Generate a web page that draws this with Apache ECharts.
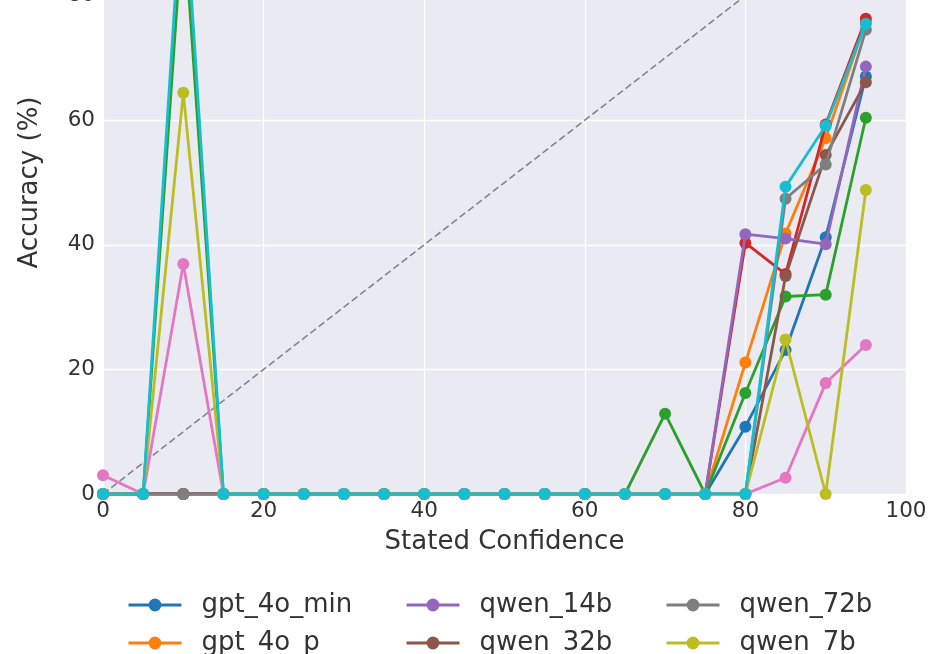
<!DOCTYPE html>
<html>
<head>
<meta charset="utf-8">
<script src="https://cdn.jsdelivr.net/npm/echarts@6/dist/echarts.min.js"></script>
<style>
html,body{margin:0;padding:0;background:#fff;overflow:hidden;width:949px;height:654px;}
#wrap{position:relative;width:949px;height:654px;overflow:hidden;}
#chart{position:absolute;left:0;top:-140px;width:949px;height:794px;}
</style>
</head>
<body>
<div id="wrap"><div id="chart"></div></div>
<script>
const confidence = [0,5,10,15,20,25,30,35,40,45,50,55,60,65,70,75,80,85,90,95];
const xTicks = [0,20,40,60,80,100];
const yTicks = [0,20,40,60,80,100];

const gpt_4o_min = [0,0,0,0,0,0,0,0,0,0,0,0,0,0,0,0,10.8,23.1,41.2,67.0];
const gpt_4o_p   = [0,0,0,0,0,0,0,0,0,0,0,0,0,0,0,0,21.1,41.8,57.1,75.8];
const llama_70b  = [0,0,93,0,0,0,0,0,0,0,0,0,0,0,12.9,0,16.2,31.7,32.0,60.4];
const llama_8b   = [0,0,0,0,0,0,0,0,0,0,0,0,0,0,0,0,40.3,35.3,59.3,76.3];
const qwen_14b   = [0,0,0,0,0,0,0,0,0,0,0,0,0,0,0,0,41.7,41.0,40.1,68.6];
const qwen_32b   = [0,0,0,0,0,0,0,0,0,0,0,0,0,0,0,0,0,35.0,54.4,66.1];
const qwen_3b    = [3.0,0,36.9,0,0,0,0,0,0,0,0,0,0,0,0,0,0,2.6,17.8,23.9];
const qwen_72b   = [0,0,0,0,0,0,0,0,0,0,0,0,0,0,0,0,0,47.4,52.9,74.5];
const qwen_7b    = [0,0,64.4,0,0,0,0,0,0,0,0,0,0,0,0,0,0,24.8,0,48.8];
const qwq_32b    = [0,0,100,0,0,0,0,0,0,0,0,0,0,0,0,0,0,49.3,59.1,75.5];
const diagonal = [0,100];

const seriesNames = ['gpt_4o_min','gpt_4o_p','llama_70b','llama_8b','qwen_14b','qwen_32b','qwen_3b','qwen_72b','qwen_7b','qwq_32b'];
const seriesValues = [gpt_4o_min,gpt_4o_p,llama_70b,llama_8b,qwen_14b,qwen_32b,qwen_3b,qwen_72b,qwen_7b,qwq_32b];
const colors = ['#1f77b4','#ff7f0e','#2ca02c','#d62728','#9467bd','#8c564b','#e377c2','#7f7f7f','#bcbd22','#17becf'];
// visible legend entries: [name, column, row]
const legendEntries = [['gpt_4o_min',0,0],['gpt_4o_p',0,1],['qwen_14b',1,0],['qwen_32b',1,1],['qwen_72b',2,0],['qwen_7b',2,1]];

const textColor = '#333333';
const font = 'DejaVu Sans';
const OFF = 140; // chart div is shifted up by this many pixels

const series = [{
  name: 'diag',
  type: 'line',
  data: diagonal.map(v => [v, v]),
  symbol: 'none',
  lineStyle: {color: '#858585', width: 1.6, type: [7, 3.5]},
  z: 1,
  silent: true
}];
seriesNames.forEach((n, i) => {
  series.push({
    name: n,
    type: 'line',
    data: confidence.map((c, j) => [c, seriesValues[i][j]]),
    symbol: 'circle',
    symbolSize: 12,
    showSymbol: true,
    color: colors[i],
    lineStyle: {width: 2.8, color: colors[i]},
    itemStyle: {color: colors[i]},
    z: 2 + i
  });
});

const colLeft = [127, 405, 665];
const rowTop = [592, 630];
const legends = legendEntries.map(e => ({
  orient: 'horizontal',
  left: colLeft[e[1]],
  top: rowTop[e[2]] + OFF,
  padding: 0,
  itemWidth: 53,
  itemHeight: 16,
  lineStyle: {width: 3},
  data: [e[0]],
  textStyle: {fontSize: 26, color: textColor, fontFamily: font, padding: [0,0,0,15]}
}));

const chart = echarts.init(document.getElementById('chart'), null, {renderer: 'canvas'});
chart.setOption({
  animation: false,
  backgroundColor: '#ffffff',
  grid: {left: 103, right: 43, top: OFF - 133, bottom: 160, show: true, backgroundColor: '#eaeaf2', borderWidth: 0, containLabel: false},
  xAxis: {
    type: 'value', min: 0, max: 100, interval: 20,
    name: 'Stated Confidence', nameLocation: 'middle', nameGap: 35,
    nameTextStyle: {fontSize: 26, color: textColor, fontFamily: font},
    axisLine: {show: false}, axisTick: {show: false},
    axisLabel: {fontSize: 21.5, color: textColor, fontFamily: font, margin: 6,
      formatter: v => xTicks.includes(v) ? String(v) : ''},
    splitLine: {show: true, lineStyle: {color: '#ffffff', width: 1.3}}
  },
  yAxis: {
    type: 'value', min: 0, max: 100, interval: 20,
    name: 'Accuracy (%)', nameLocation: 'middle', nameGap: 51,
    nameTextStyle: {fontSize: 26, color: textColor, fontFamily: font},
    axisLine: {show: false}, axisTick: {show: false},
    axisLabel: {fontSize: 21.5, color: textColor, fontFamily: font, margin: 8,
      formatter: v => yTicks.includes(v) ? String(v) : ''},
    splitLine: {show: true, lineStyle: {color: '#ffffff', width: 1.3}}
  },
  legend: legends,
  series: series
});
</script>
</body>
</html>
